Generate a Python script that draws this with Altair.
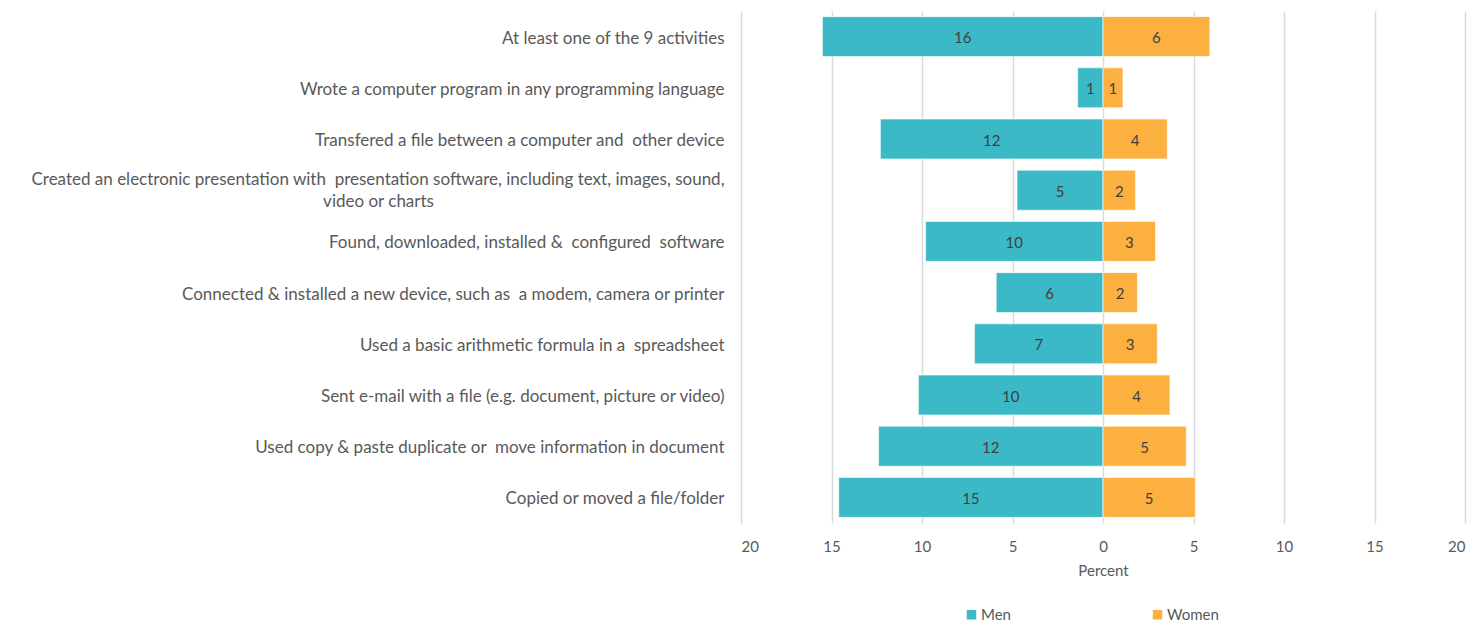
import altair as alt
import pandas as pd

NB = "\u00a0"
activities = [
    "At least one of the 9 activities",
    "Wrote a computer program in any programming language",
    "Transfered a file between a computer and" + NB + " other device",
    "Created an electronic presentation with" + NB + " presentation software, including text, images, sound,|video or charts" + NB * 64 + "\u2800",
    "Found, downloaded, installed &" + NB + " configured" + NB + " software",
    "Connected & installed a new device, such as" + NB + " a modem, camera or printer",
    "Used a basic arithmetic formula in a" + NB + " spreadsheet",
    "Sent e-mail with a file (e.g. document, picture or video)",
    "Used copy & paste duplicate or" + NB + " move information in document",
    "Copied or moved a file/folder",
]
men = [15.5, 1.4, 12.3, 4.75, 9.8, 5.9, 7.1, 10.2, 12.4, 14.6]
women = [5.9, 1.1, 3.55, 1.8, 2.9, 1.9, 3.0, 3.7, 4.6, 5.1]
x_ticks = [-20, -15, -10, -5, 0, 5, 10, 15, 20]
genders = ["Men", "Women"]
colors = ["#3BB9C7", "#FBB040"]

rows = []
for a, m, w in zip(activities, men, women):
    rows.append({"activity": a, "gender": "Men", "value": m, "signed": -m})
    rows.append({"activity": a, "gender": "Women", "value": w, "signed": w})
df = pd.DataFrame(rows)

FONT = "Lato"
GRAY = "#595959"

y = alt.Y(
    "activity:N",
    sort=activities,
    scale=alt.Scale(paddingInner=0.22, paddingOuter=0.11),
    axis=alt.Axis(
        title=None,
        labelExpr="split(datum.label, '|')",
        ticks=False,
        domain=False,
        labelPadding=17,
        labelFontSize=17,
        labelColor=GRAY,
        labelFont=FONT,
        labelLimit=1000,
        labelLineHeight=22,
        labelOffset={
            "condition": {"test": "indexof(datum.value, '|') >= 0", "value": -10},
            "value": 2,
        },
    ),
)
x = alt.X(
    "signed:Q",
    scale=alt.Scale(domain=[-20, 20], nice=False),
    axis=alt.Axis(
        values=x_ticks,
        labelExpr="abs(datum.value)",
        title="Percent",
        grid=True,
        gridColor="#D9D9D9",
        gridWidth=1.5,
        ticks=False,
        domain=False,
        labelFontSize=15,
        labelColor=GRAY,
        labelFont=FONT,
        labelPadding=16,
        titleFontSize=15,
        titleFont=FONT,
        titleColor=GRAY,
        titleFontWeight="normal",
        titlePadding=9,
    ),
)

bars = alt.Chart(df).mark_bar(stroke="#ffffff", strokeOpacity=0.6, strokeWidth=1).encode(
    x=x,
    y=y,
    color=alt.Color(
        "gender:N",
        scale=alt.Scale(domain=genders, range=colors),
        legend=alt.Legend(
            title=None,
            orient="none",
            legendX=223,
            legendY=596,
            direction="horizontal",
            symbolType="square",
            symbolSize=90,
            symbolStrokeWidth=0,
            labelFontSize=15,
            labelFont=FONT,
            labelColor=GRAY,
            columnPadding=139,
            labelOffset=2,
        ),
    ),
)

labels = alt.Chart(df).transform_calculate(mid="datum.signed / 2").mark_text(
    fontSize=15, font=FONT, color="#404040", baseline="middle", align="center", dy=1.5
).encode(
    x=alt.X("mid:Q"),
    y=alt.Y("activity:N", sort=activities),
    text=alt.Text("value:Q", format=".0f"),
)

chart = (
    alt.layer(bars, labels)
    .properties(
        width=724,
        height=512,
        padding={"left": 733, "top": 3, "right": 3, "bottom": 100},
        autosize=alt.AutoSizeParams(type="none"),
    )
    .configure_view(stroke=None)
)

chart.save("out.html", embed_options={"renderer": "svg", "actions": False})
